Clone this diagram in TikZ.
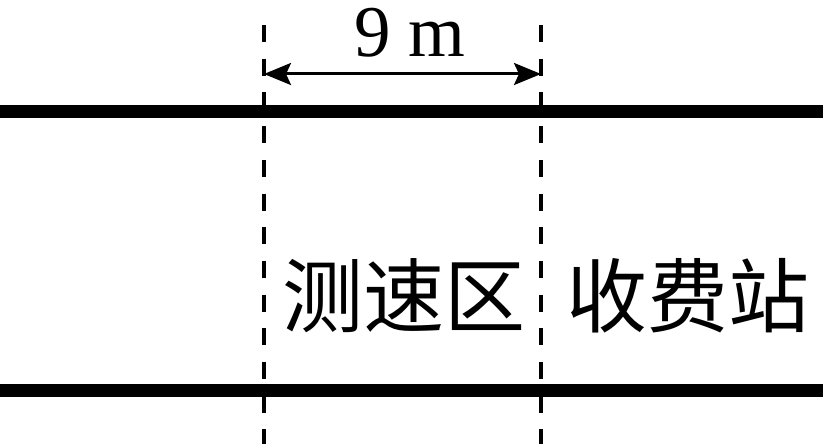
\documentclass[tikz,border=0pt]{standalone}
\usepackage{fontspec}
\setmainfont{Liberation Serif}
\newfontfamily\cjk{Noto Sans CJK SC}
\usetikzlibrary{arrows.meta}
\tikzset{
  road/.style={line width=13pt},
  boundary/.style={line width=4.5pt, dash pattern=on 17pt off 16.7pt},
  dim/.style={line width=3pt, {Stealth[length=27pt,width=22pt,inset=5pt]}-{Stealth[length=27pt,width=22pt,inset=5pt]}},
  cjklabel/.style={inner sep=0pt, font=\cjk\fontsize{81pt}{81pt}\selectfont},
  numlabel/.style={inner sep=0pt, anchor=base, font=\fontsize{73pt}{73pt}\selectfont}
}
\begin{document}
\begin{tikzpicture}[x=1pt,y=-1pt]
\useasboundingbox (0,0) rectangle (823,444);
% road edges
\coordinate (r1l) at (0,111.5);
\coordinate (r1r) at (823,111.5);
\coordinate (r2l) at (0,390);
\coordinate (r2r) at (823,390);
\draw[road] (r1l) -- (r1r);
\draw[road] (r2l) -- (r2r);
% dashed boundaries
\coordinate (d1t) at (264,25);
\coordinate (d1b) at (264,450);
\coordinate (d2t) at (541,25);
\coordinate (d2b) at (541,450);
\draw[boundary] (d1t) -- (d1b);
\draw[boundary] (d2t) -- (d2b);
% dimension
\coordinate (a1) at (264,74);
\coordinate (a2) at (541,74);
\draw[dim] (a1) -- (a2);
\node[numlabel] (dist) at (410,57) {9 m};
% labels
\node[cjklabel] (zone) at (404,295.5) {测速区};
\node[cjklabel] (toll) at (688,295.5) {收费站};
\end{tikzpicture}
\end{document}
